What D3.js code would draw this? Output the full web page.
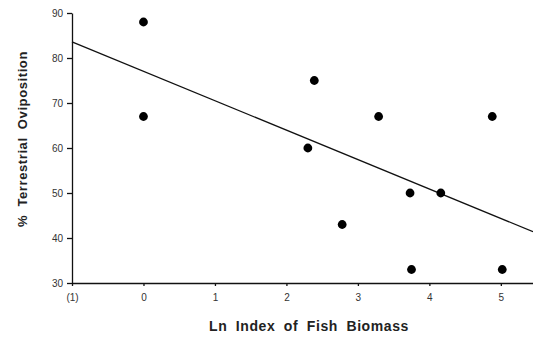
<!DOCTYPE html>
<html><head><meta charset="utf-8">
<script src="https://cdn.jsdelivr.net/npm/d3@7"></script>
<style>body{margin:0;background:#fff}svg{display:block}</style>
</head><body>
<script>
const xValues = [0, 0, 2.39, 3.29, 4.88, 2.30, 3.73, 4.16, 2.78, 3.75, 5.02];
const yValues = [88, 67, 75, 67, 67, 60, 50, 50, 43, 33, 33];
const fitLine = [[-1, 83.6], [5.45, 41.4]];
const xTicks = [-1, 0, 1, 2, 3, 4, 5];
const xTickLabels = ["(1)", "0", "1", "2", "3", "4", "5"];
const yTicks = [30, 40, 50, 60, 70, 80, 90];

const W = 533, H = 338;
const svg = d3.select("body").append("svg").attr("width", W).attr("height", H);
const x = d3.scaleLinear().domain([-1, 5.45]).range([72, 533]);
const y = d3.scaleLinear().domain([30, 90]).range([283, 13]);

const xAxis = d3.axisBottom(x).tickValues(xTicks).tickFormat((d, i) => xTickLabels[i]).tickSize(3).tickSizeOuter(0).tickPadding(8);
const gx = svg.append("g").attr("transform", "translate(0,283)").call(xAxis);
const yAxis = d3.axisLeft(y).tickValues(yTicks).tickSize(5).tickSizeOuter(0).tickPadding(4);
const gy = svg.append("g").attr("transform", "translate(72,0)").call(yAxis);
[gx, gy].forEach(g => {
  g.selectAll("path,line").attr("stroke", "#111").attr("stroke-width", 1.3);
  g.selectAll("text").attr("font-family", "Liberation Sans, Arial, sans-serif").attr("font-size", 10).attr("fill", "#333");
});

svg.append("line")
  .attr("x1", x(fitLine[0][0])).attr("y1", y(fitLine[0][1]))
  .attr("x2", x(fitLine[1][0])).attr("y2", y(fitLine[1][1]))
  .attr("stroke", "#111").attr("stroke-width", 1.3);

svg.append("g").selectAll("circle").data(xValues).join("circle")
  .attr("cx", d => x(d)).attr("cy", (d, i) => y(yValues[i])).attr("r", 4.4).attr("fill", "#000");

svg.append("text").attr("x", 309).attr("y", 331).attr("text-anchor", "middle")
  .attr("font-family", "Liberation Sans, Arial, sans-serif").attr("font-weight", "bold").attr("font-size", 14)
  .attr("letter-spacing", 0.6).attr("word-spacing", 4).attr("fill", "#222")
  .text("Ln Index of Fish Biomass");

svg.append("text").attr("transform", "translate(27,139) rotate(-90)").attr("text-anchor", "middle")
  .attr("font-family", "Liberation Sans, Arial, sans-serif").attr("font-weight", "bold").attr("font-size", 13)
  .attr("letter-spacing", 0.6).attr("word-spacing", 4).attr("fill", "#222")
  .text("% Terrestrial Oviposition");
</script>
</body></html>
